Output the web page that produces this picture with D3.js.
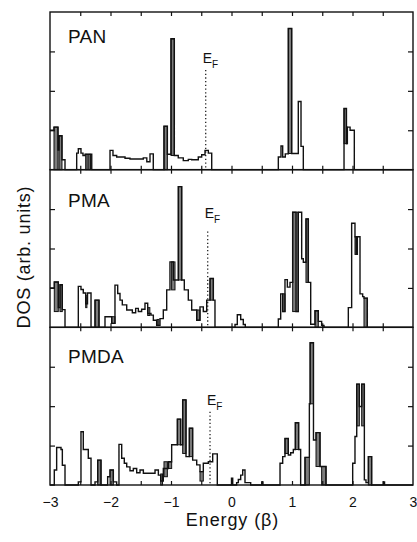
<!DOCTYPE html>
<html>
<head>
<meta charset="utf-8">
<script src="https://cdn.jsdelivr.net/npm/d3@7"></script>
<style>
  body { margin: 0; background: #fff; }
  text { font-family: "Liberation Sans", Arial, sans-serif; fill: #111; }
</style>
</head>
<body>
<script>
// energy axis
const energyTicks = [-3, -2, -1, 0, 1, 2, 3];
const panelNames = ["PAN", "PMA", "PMDA"];
const fermiEnergy = [-0.426, -0.393, -0.355];
const fermiTop = [2.53, 2.43, 1.86];
const fermiLabel = [2.71, 2.78, 2.03];
const nameLevel = [3.21, 3.05, 3.1];

// DOS step curves: [energy, value] (value holds until the next energy)
const panSteps = [
  [-3.0, 1.0], [-2.934, 1.08], [-2.868, 0.5], [-2.851, 0.86], [-2.802, 0.25], [-2.752, 0],
  [-2.559, 0.42], [-2.532, 0.53], [-2.488, 0.42], [-2.455, 0.36], [-2.42, 0.39], [-2.31, 0],
  [-2.008, 0.49], [-1.959, 0.36], [-1.898, 0.32], [-1.76, 0.29], [-1.678, 0.27], [-1.458, 0.30],
  [-1.40, 0.20], [-1.347, 0.40], [-1.293, 0],
  [-1.116, 1.1], [-1.06, 0.39], [-1.0, 3.32], [-0.945, 0.36], [-0.88, 0.30], [-0.797, 0.23],
  [-0.714, 0.26], [-0.658, 0.25], [-0.549, 0.32], [-0.493, 0.38], [-0.438, 0.49], [-0.383, 0.42],
  [-0.327, 0],
  [0.774, 0.32], [0.818, 0.6], [0.846, 0.32], [0.889, 0.4], [0.939, 3.58], [0.995, 0.41],
  [1.104, 1.73], [1.149, 0.59], [1.187, 0],
  [1.86, 1.55], [1.90, 0.66], [1.915, 1.08], [1.96, 1.0], [2.03, 0], [3.0, 0]
];
const pmaSteps = [
  [-3.0, 1.0], [-2.929, 1.15], [-2.863, 0.5], [-2.835, 1.08], [-2.797, 0.45], [-2.752, 0],
  [-2.532, 1.04], [-2.488, 0.96], [-2.45, 0.87], [-2.41, 0.6], [-2.38, 0.87], [-2.322, 0],
  [-2.256, 0.69], [-2.19, 0], [-2.091, 0.27], [-1.98, 0.1],
  [-1.926, 1.07], [-1.881, 0.86], [-1.843, 0.69], [-1.805, 0.57], [-1.732, 0.44], [-1.639, 0.37],
  [-1.584, 0.48], [-1.54, 0.40], [-1.485, 0.46], [-1.43, 0.61], [-1.385, 0.35], [-1.331, 0.31],
  [-1.292, 0.18], [-1.237, 0.05], [-1.182, 0.22], [-1.127, 0.44], [-1.071, 0.95], [-1.017, 1.66],
  [-0.962, 1.2], [-0.879, 3.57], [-0.823, 1.2], [-0.78, 0.95], [-0.714, 0.69], [-0.658, 0.44],
  [-0.575, 0.18], [-0.521, 0.52], [-0.466, 0.4], [-0.41, 0.69], [-0.355, 1.24], [-0.30, 0.69],
  [-0.273, 0],
  [0.058, 0.07], [0.096, 0.32], [0.152, 0.2], [0.195, 0.07], [0.228, 0],
  [0.774, 0.21], [0.813, 0.85], [0.846, 0.4], [0.884, 1.21], [0.923, 1.02], [0.967, 1.14],
  [1.011, 2.92], [1.066, 0.4], [1.104, 2.92], [1.16, 1.74], [1.187, 1.65], [1.231, 2.75],
  [1.27, 1.14], [1.309, 0.08], [1.38, 0.42], [1.435, 0.15], [1.49, 0.05], [1.529, 0],
  [1.931, 0.5], [1.986, 2.64], [2.041, 2.3], [2.06, 1.85], [2.08, 2.3], [2.124, 0.85],
  [2.168, 0.78], [2.19, 0.74], [2.245, 0], [3.0, 0]
];
const pmdaSteps = [
  [-3.0, 0], [-2.929, 0.38], [-2.89, 0.95], [-2.818, 0.9], [-2.796, 0.5], [-2.752, 0],
  [-2.532, 0.08], [-2.488, 1.35], [-2.45, 0.9], [-2.367, 0.68], [-2.322, 0],
  [-2.256, 0.08], [-2.212, 0.63], [-2.157, 0],
  [-2.047, 0.21], [-2.008, 0.38], [-1.953, 0.08], [-1.898, 0],
  [-1.86, 1.03], [-1.815, 0.68], [-1.772, 0.55], [-1.732, 0.46], [-1.678, 0.36], [-1.623, 0.42],
  [-1.567, 0.31], [-1.512, 0.38], [-1.457, 0.3], [-1.264, 0.38], [-1.209, 0.25], [-1.17, 0.1],
  [-1.127, 0.42], [-1.044, 0.59], [-0.989, 1.02], [-0.895, 1.67], [-0.84, 1.02], [-0.807, 2.16],
  [-0.752, 0.72], [-0.697, 1.44], [-0.642, 0.63], [-0.575, 0.51], [-0.521, 0.34], [-0.466, 0.55],
  [-0.383, 0.59], [-0.311, 0.79], [-0.235, 0],
  [0.0, 0.17], [0.02, 0], [0.085, 0.06], [0.113, 0.14], [0.152, 0.25], [0.185, 0.38],
  [0.223, 0.06], [0.317, 0], [0.50, 0.08], [0.52, 0],
  [0.802, 0.55], [0.846, 0.72], [0.884, 1.18], [0.939, 0.76], [0.978, 0.82], [1.022, 0.9],
  [1.055, 1.58], [1.11, 0.9], [1.143, 0], [1.215, 0.7], [1.287, 2.06], [1.30, 3.61],
  [1.355, 1.14], [1.397, 1.33], [1.463, 0.47], [1.49, 0.47], [1.562, 0],
  [2.003, 0.55], [2.041, 1.23], [2.07, 2.56], [2.113, 1.99], [2.152, 2.56], [2.196, 0.13],
  [2.223, 0.06], [2.262, 0.72], [2.317, 0], [2.51, 0.08], [2.53, 0], [3.0, 0]
];

// shaded narrow peaks: [e0, e1, low, high]
const panSpikes = [
  [-2.934, -2.868, 0, 1.08], [-2.851, -2.802, 0, 0.86], [-2.41, -2.385, 0, 0.39],
  [-2.36, -2.33, 0, 0.39], [-1.116, -1.06, 0, 1.1], [-1.0, -0.945, 0.36, 3.32],
  [0.939, 0.995, 0.41, 3.58], [1.86, 1.90, 0.66, 1.55], [1.90, 1.915, 0.66, 1.08]
];
const pmaSpikes = [
  [-2.929, -2.863, 0.4, 1.15], [-2.835, -2.797, 0.4, 1.08], [-2.41, -2.39, 0.5, 0.8],
  [-2.256, -2.19, 0, 0.69], [-1.98, -1.926, 0.1, 0.27], [-1.385, -1.35, 0.3, 0.5],
  [-1.23, -1.2, 0.05, 0.2], [-0.99, -0.934, 0.95, 1.66], [-0.879, -0.823, 1.2, 3.57],
  [-0.575, -0.521, 0.18, 0.44], [-0.355, -0.30, 0.69, 1.24], [0.846, 0.884, 0.4, 0.85],
  [1.011, 1.104, 0.4, 2.92], [1.231, 1.27, 1.14, 2.75], [1.38, 1.435, 0, 0.42],
  [2.041, 2.08, 1.85, 2.3], [2.19, 2.245, 0, 0.74]
];
const pmdaSpikes = [
  [-2.212, -2.157, 0, 0.63], [-2.008, -1.953, 0, 0.38], [-1.17, -1.14, 0, 0.28],
  [-1.116, -1.06, 0.21, 0.59], [-1.044, -0.989, 0.42, 0.59], [-0.895, -0.84, 1.02, 1.67],
  [-0.807, -0.752, 0.8, 2.16], [-0.697, -0.642, 0.72, 1.44], [-0.521, -0.466, 0.1, 0.34],
  [0.884, 0.939, 0.8, 1.18], [1.055, 1.11, 0.9, 1.58], [1.215, 1.287, 0, 0.7],
  [1.30, 1.355, 2.06, 3.61], [1.397, 1.463, 0.47, 1.33], [1.49, 1.562, 0, 0.47],
  [2.07, 2.113, 1.5, 2.56], [2.152, 2.196, 1.5, 2.56], [2.262, 2.317, 0, 0.72]
];

const stepsList = [panSteps, pmaSteps, pmdaSteps];
const spikesList = [panSpikes, pmaSpikes, pmdaSpikes];

const chartW = 417, chartH = 542;
const plotLeft = 50, plotRight = 413, plotTop = 12, plotBottom = 485;
const panelH = (plotBottom - plotTop) / 3;

const svg = d3.select("body").append("svg")
  .attr("width", chartW)
  .attr("height", chartH);

const x = d3.scaleLinear().domain([-3, 3]).range([plotLeft, plotRight]);
const minorTicks = d3.range(-2.5, 2.51, 0.5);

panelNames.forEach((name, i) => {
  const y0 = plotTop + i * panelH;
  const y = d3.scaleLinear().domain([0, 4]).range([y0 + panelH, y0]);
  const g = svg.append("g");

  // shaded peaks
  g.selectAll("rect.spike")
    .data(spikesList[i])
    .enter()
    .append("rect")
    .attr("class", "spike")
    .attr("x", d => x(d[0]))
    .attr("width", d => x(d[1]) - x(d[0]))
    .attr("y", d => y(d[3]))
    .attr("height", d => y(d[2]) - y(d[3]))
    .attr("fill", "#7d7d7d")
    .attr("stroke", "#111")
    .attr("stroke-width", 1);

  // DOS histogram
  const line = d3.line()
    .x(d => x(d[0]))
    .y(d => y(d[1]))
    .curve(d3.curveStepAfter);

  g.append("path")
    .datum(stepsList[i])
    .attr("d", line)
    .attr("fill", "none")
    .attr("stroke", "#111")
    .attr("stroke-width", 1.4);

  // frame
  g.append("rect")
    .attr("x", plotLeft).attr("y", y0)
    .attr("width", plotRight - plotLeft).attr("height", panelH)
    .attr("fill", "none")
    .attr("stroke", "#111")
    .attr("stroke-width", 1.4);

  // inward ticks
  const tickFmt = () => "";
  g.append("g").attr("transform", "translate(0," + y0 + ")")
    .call(d3.axisBottom(x).tickValues(minorTicks).tickSize(4).tickFormat(tickFmt));
  g.append("g").attr("transform", "translate(0," + (y0 + panelH) + ")")
    .call(d3.axisTop(x).tickValues(minorTicks).tickSize(4).tickFormat(tickFmt));
  g.append("g").attr("transform", "translate(" + plotLeft + ",0)")
    .call(d3.axisRight(y).tickValues([1, 2, 3]).tickSize(5).tickFormat(tickFmt));
  g.append("g").attr("transform", "translate(" + plotRight + ",0)")
    .call(d3.axisLeft(y).tickValues([1, 2, 3]).tickSize(5).tickFormat(tickFmt));
  g.selectAll(".domain").remove();
  g.selectAll(".tick line").attr("stroke", "#111").attr("stroke-width", 1.2);

  // panel name
  g.append("text")
    .attr("x", 68)
    .attr("y", y(nameLevel[i]))
    .attr("font-size", 19)
    .attr("letter-spacing", 0.3)
    .text(name);

  // Fermi level
  const ef = fermiEnergy[i];
  g.append("line")
    .attr("x1", x(ef)).attr("x2", x(ef))
    .attr("y1", y(fermiTop[i])).attr("y2", y(0))
    .attr("stroke", "#111")
    .attr("stroke-width", 1.2)
    .attr("stroke-dasharray", "1.3,2.4");

  const efText = g.append("text")
    .attr("x", x(ef) - 3)
    .attr("y", y(fermiLabel[i]))
    .attr("font-size", 14);
  efText.append("tspan").text("E");
  efText.append("tspan").attr("dy", 5).attr("font-size", 10).text("F");
});

// energy axis labels
const xAxis = svg.append("g")
  .attr("transform", "translate(0," + plotBottom + ")")
  .call(d3.axisBottom(x).tickValues(energyTicks).tickSize(0).tickPadding(12).tickFormat(d3.format("d")));
xAxis.select(".domain").remove();
xAxis.selectAll("text")
  .attr("font-size", 14)
  .attr("font-family", "'Liberation Sans', Arial, sans-serif")
  .attr("fill", "#111");

svg.append("text")
  .attr("x", (plotLeft + plotRight) / 2 + 1)
  .attr("y", 526)
  .attr("text-anchor", "middle")
  .attr("font-size", 18)
  .attr("letter-spacing", 0.9)
  .text("Energy (β)");

svg.append("text")
  .attr("transform", "translate(30,257) rotate(-90)")
  .attr("text-anchor", "middle")
  .attr("font-size", 18)
  .attr("letter-spacing", 0.8)
  .text("DOS (arb. units)");
</script>
</body>
</html>
